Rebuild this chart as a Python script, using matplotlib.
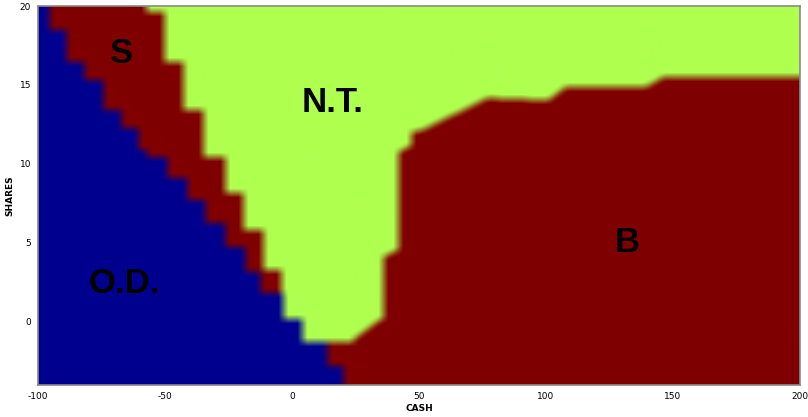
import numpy as np
import matplotlib
matplotlib.use("Agg")
import matplotlib.pyplot as plt
from matplotlib.path import Path

# ---------------- data ----------------
# Left staircases: rows given by (upper y, lower y); for each row the x where
# O.D. (blue) ends and where the S band ends (green N.T. begins).
row_top = [20.0, 19.62, 18.48, 16.46, 15.32, 13.42, 12.28, 10.89, 10.44, 9.11,
           8.16, 7.72, 6.27, 5.82, 4.75, 3.29, 3.16, 1.84, 0.13, -1.27, -2.85]
row_bottom = [19.62, 18.48, 16.46, 15.32, 13.42, 12.28, 10.89, 10.44, 9.11, 8.16,
              7.72, 6.27, 5.82, 4.75, 3.29, 3.16, 1.84, 0.13, -1.27, -2.85, -4.0]
od_edge = [-95.7, -95.7, -89.0, -81.9, -74.4, -67.3, -60.6, -57.1, -49.2, -41.3,
           -41.3, -34.3, -26.4, -26.4, -18.5, -18.5, -12.6, -3.5, 3.9, 13.8, 20.1]
s_edge = [-57.5, -50.4, -50.4, -42.9, -42.9, -35.0, -35.0, -35.0, -26.4, -26.4,
          -19.3, -19.3, -19.3, -11.4, -11.4, -4.5, -4.5, -3.5, 3.9, 13.8, 20.1]

# B (buy) region boundary vertices (CASH, SHARES)
b_cash = [-10.0, 205.0, 205.0, 146.1, 139.0, 107.5, 100.8, 76.8, 51.6, 47.0,
          47.0, 41.7, 41.7, 35.8, 35.8, 34.6, 24.0, 24.0, -10.0]
b_shares = [-4.5, -4.5, 15.51, 15.51, 14.87, 14.87, 14.05, 14.18, 12.2, 12.0,
            11.2, 10.76, 4.56, 4.11, 0.13, 0.13, -1.14, -1.27, -1.27]

region_labels = ["S", "N.T.", "B", "O.D."]
label_x = [-66.9, 16.1, 131.9, -66.1]
label_y = [17.0, 13.86, 5.0, 2.41]

xticks = [-100, -50, 0, 50, 100, 150, 200]
yticks = [0, 5, 10, 15, 20]
xlim = (-100, 200)
ylim = (-4, 20)

# ---------------- colours ----------------
c_od = np.array([0, 0, 143]) / 255.0
c_red = np.array([128, 0, 0]) / 255.0
c_nt = np.array([175, 255, 80]) / 255.0

# ---------------- classify grid ----------------
nx, ny = 762, 379
xs = np.linspace(xlim[0], xlim[1], nx)
ys = np.linspace(ylim[0], ylim[1], ny)
X, Y = np.meshgrid(xs, ys)

od_x = np.full(X.shape, -1e9)
s_x = np.full(X.shape, -1e9)
for top, bot, e1, e2 in zip(row_top, row_bottom, od_edge, s_edge):
    m = (Y <= top + 1e-9) & (Y > bot - 1e-9)
    od_x[m] = e1
    s_x[m] = e2

bpath = Path(np.column_stack([b_cash, b_shares]))
inside_b = bpath.contains_points(np.column_stack([X.ravel(), Y.ravel()])).reshape(X.shape)

rgb = np.empty(X.shape + (3,))
rgb[:] = c_nt
rgb[inside_b] = c_red
rgb[(X >= od_x) & (X < s_x)] = c_red
rgb[X < od_x] = c_od


def box_blur(a, k, axis):
    pad = k // 2
    widths = [(0, 0)] * a.ndim
    widths[axis] = (pad + 1, pad)
    p = np.pad(a, widths, mode="edge")
    c = np.cumsum(p, axis=axis)
    n = a.shape[axis]
    hi = np.take(c, np.arange(k, k + n), axis=axis)
    lo = np.take(c, np.arange(0, n), axis=axis)
    return (hi - lo) / k


rgb = box_blur(rgb, 10, 1)
rgb = box_blur(rgb, 9, 0)
rgb = np.clip(rgb, 0, 1)

# ---------------- plot ----------------
fig = plt.figure(figsize=(8.08, 4.17), dpi=100)
ax = fig.add_axes([38 / 808, 32 / 417, 762 / 808, 379 / 417])
ax.imshow(rgb, extent=[xlim[0], xlim[1], ylim[0], ylim[1]], origin="lower",
          aspect="auto", interpolation="bilinear")
ax.set_xlim(*xlim)
ax.set_ylim(*ylim)

tick_font = ["DejaVu Sans"]
ax.set_xticks(xticks)
ax.set_yticks(yticks)
ax.set_xticklabels([str(t) for t in xticks], family=tick_font, fontsize=6.5)
ax.set_yticklabels([str(t) for t in yticks], family=tick_font, fontsize=6.5)
ax.tick_params(direction="in", length=0, pad=5)
for s in ax.spines.values():
    s.set_color("#8a8a8a")
    s.set_linewidth(1.2)

ax.set_xlabel("CASH", family=tick_font, fontsize=6.5, fontweight="bold", labelpad=2)
ax.set_ylabel("SHARES", family=tick_font, fontsize=6.5, fontweight="bold")
ax.yaxis.set_label_coords(-0.031, 0.5)

for t, lx, ly in zip(region_labels, label_x, label_y):
    ax.text(lx, ly, t, ha="center", va="center", fontsize=25, fontweight="bold",
            family=["Liberation Sans", "DejaVu Sans"], color="black")

fig.savefig("out.png", dpi=100)
